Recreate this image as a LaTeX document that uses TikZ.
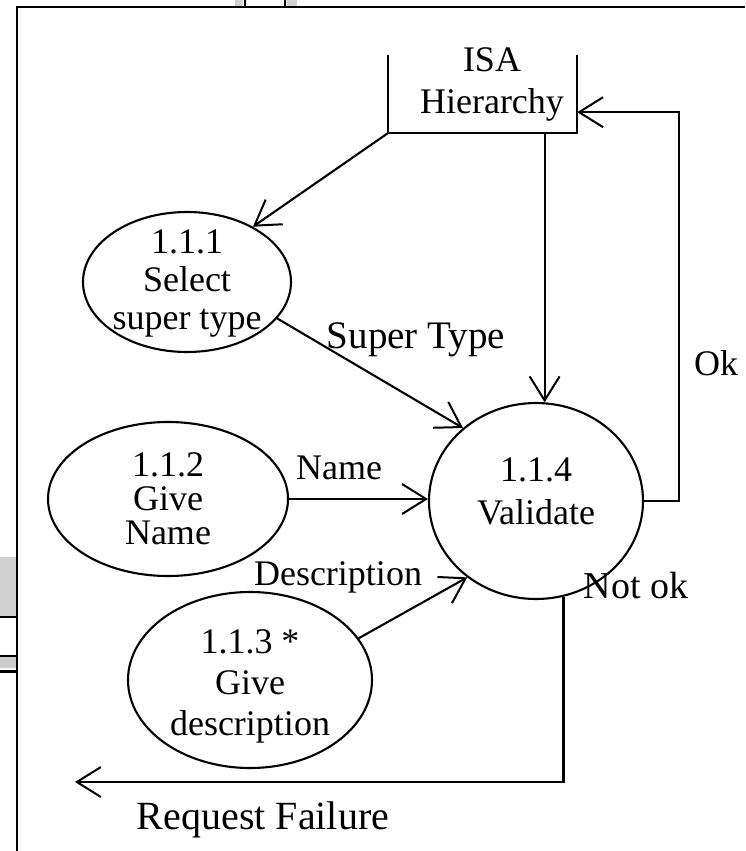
\documentclass[tikz,border=0pt]{standalone}
\usepackage{fontspec}
\setmainfont{Liberation Serif}
\usetikzlibrary{arrows.meta,shapes.geometric}
\begin{document}
\begin{tikzpicture}[x=1pt,y=-1pt,
  every node/.style={font=\fontsize{36}{38}\selectfont},
  proc/.style={ellipse,draw,line width=2.1pt,inner sep=0pt},
  ptext/.style={align=center,inner sep=0pt},
  flow/.style={line width=2.1pt,-{Straight Barb[length=24pt,width=30pt,line width=2pt]}},
  lab/.style={inner sep=0pt},
  frameline/.style={line width=2.2pt}]
\useasboundingbox (0,0) rectangle (745,851);
% frame and edge artifacts
\draw[frameline] (17,851) -- (17,7) -- (745,7);
\fill[gray!35] (0,557) rectangle (16,616);
\draw[line width=2pt] (0,617) -- (17,617);
\draw[line width=1.5pt] (0,656) -- (17,656);
\fill[gray!40] (0,657) rectangle (16,668);
\draw[line width=3pt] (0,671.5) -- (17,671.5);
\fill[gray!35] (235,0) rectangle (243,6);
\draw[line width=1.5pt] (245,0) -- (245,7);
\draw[line width=1.5pt] (285,0) -- (285,7);
\fill[gray!35] (287,0) rectangle (297,6);
% processes
\node[proc,minimum width=208pt,minimum height=140pt,
  label={[ptext,font=\fontsize{36}{38}\selectfont,yshift=-1pt]center:1.1.1\\Select\\super type}] (n111) at (187,282) {};
\node[proc,minimum width=240pt,minimum height=154pt,
  label={[ptext,font=\fontsize{36}{34}\selectfont]center:1.1.2\\Give\\Name}] (n112) at (168,499) {};
\node[proc,minimum width=244pt,minimum height=176pt,
  label={[ptext,font=\fontsize{36}{41}\selectfont,yshift=-6pt]center:1.1.3 *\\Give\\description}] (n113) at (250,680) {};
\node[proc,minimum width=214pt,minimum height=196pt,
  label={[ptext,font=\fontsize{36}{43}\selectfont,yshift=10pt]center:1.1.4\\Validate}] (n114) at (536,501) {};
% data store
\node[minimum width=189pt,minimum height=78pt,inner sep=0pt] (isa) at (482.5,94) {};
\node[lab,align=center,font=\fontsize{36}{42}\selectfont] (isat) at (492,84) {ISA\\Hierarchy};
\draw[line width=2.1pt] (isa.north west) -- (isa.south west) -- (isa.south east) -- (isa.north east);
% flows
\draw[flow] (isa.south west) -- (n111.40);
\draw[flow] (isa.south -| n114.85) -- (n114.85);
\draw[flow] (n111.-22) -- (n114.135);
\draw[flow] (n112.east) -- (n112.east -| n114.west);
\draw[flow] (n113.21) -- (n114.228);
\draw[flow] (n114.east) -- ++(35,0) |- ([yshift=21pt]isa.south east);
\coordinate (rf) at (75,782);
\draw[flow] (n114.-74) |- (rf);
% labels
\node[lab,font=\fontsize{39}{40}\selectfont] (lst) at (416,340) {Super Type};
\node[lab] (lname) at (339,468) {Name};
\node[lab] (ldesc) at (338,577) {Description};
\node[lab] (lok) at (716,363) {Ok};
\node[lab,font=\fontsize{38}{40}\selectfont] (lnok) at (636,585) {Not ok};
\node[lab,font=\fontsize{40}{40}\selectfont] (lrf) at (263,820) {Request Failure};
\end{tikzpicture}
\end{document}
